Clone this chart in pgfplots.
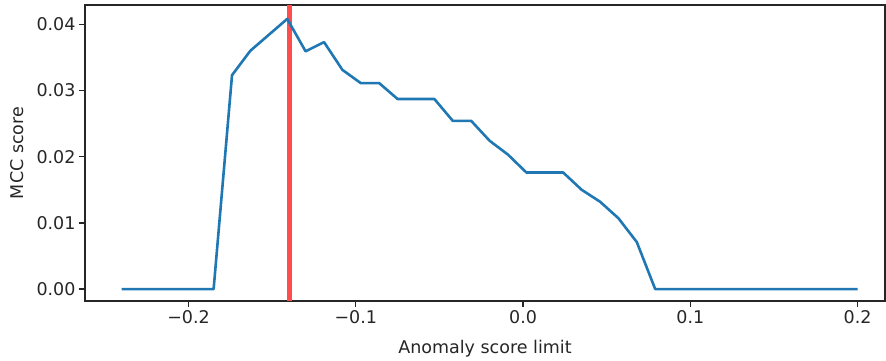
\documentclass[border=0pt]{standalone}
\usepackage{fontspec}
\setmainfont{DejaVu Sans}
\usepackage{pgfplots}
\pgfplotsset{compat=1.18}
\definecolor{mplblue}{HTML}{1F77B4}
\definecolor{mplred}{RGB}{255,77,77}
\newcommand\f{\fontsize{17.5}{21}\selectfont}
\begin{document}
\begin{tikzpicture}
\begin{axis}[
  scale only axis,
  width=800pt, height=296pt,
  xmin=-0.2619, xmax=0.2164,
  ymin=-0.0018, ymax=0.0429,
  axis line style={black!85, line width=1.4pt},
  tick style={black!85, line width=1.4pt},
  tick align=outside,
  major tick length=6pt,
  xtick={-0.2,-0.1,0,0.1,0.2},
  xticklabels={−0.2,−0.1,0.0,0.1,0.2},
  ytick={0,0.01,0.02,0.03,0.04},
  yticklabels={0.00,0.01,0.02,0.03,0.04},
  minor tick num=0,
  xtick pos=bottom, ytick pos=left,
  ticklabel style={font=\f, text=black!85},
  xlabel={Anomaly score limit},
  ylabel={MCC score},
  label style={font=\f, text=black!85},
  xlabel style={at={(axis description cs:0.5,-0.1605)}, anchor=center},
  ylabel style={at={(axis description cs:-0.085,0.5)}, anchor=center},
  clip=false,
]
\addplot[mplred, line width=5pt] coordinates {(-0.1395,-0.0018) (-0.1395,0.0429)};
\addplot[mplblue, line width=2.6pt, line join=round] coordinates {
(-0.240,0) (-0.229,0) (-0.218,0) (-0.207,0) (-0.196,0) (-0.185,0)
(-0.174,0.0323) (-0.163,0.0360) (-0.152,0.0384) (-0.141,0.0408)
(-0.130,0.0359) (-0.119,0.0373) (-0.108,0.0331) (-0.097,0.0311)
(-0.086,0.0311) (-0.075,0.0287) (-0.064,0.0287) (-0.053,0.0287)
(-0.042,0.0254) (-0.031,0.0254) (-0.020,0.0224) (-0.009,0.0203)
(0.002,0.0176) (0.013,0.0176) (0.024,0.0176) (0.035,0.0150)
(0.046,0.0132) (0.057,0.0107) (0.068,0.0071) (0.079,0)
(0.090,0) (0.101,0) (0.112,0) (0.123,0) (0.134,0) (0.145,0)
(0.156,0) (0.167,0) (0.178,0) (0.189,0) (0.200,0)
};
\end{axis}
\pgfresetboundingbox
\path ([shift={(-85pt,-60pt)}]current axis.south west) rectangle ([shift={(1pt,5pt)}]current axis.north east);
\end{tikzpicture}
\end{document}
